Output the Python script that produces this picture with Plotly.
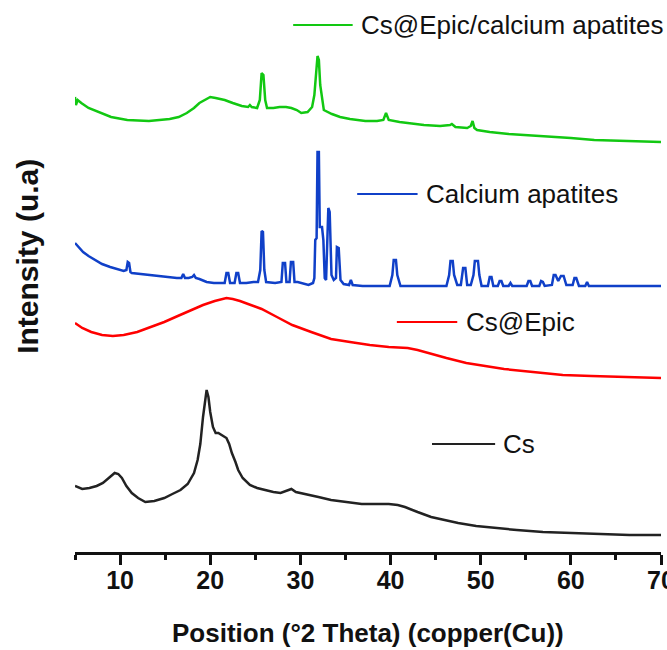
import plotly.graph_objects as go

# 2-theta positions (deg) and stacked intensities (a.u., offsets included)
cs_x = [5.0, 5.8, 6.6, 7.4, 8.1, 8.8, 9.4, 9.8, 10.2, 10.7, 11.3, 12.0, 12.8, 13.8, 14.9,
        15.8, 16.7, 17.5, 18.2, 18.6, 18.9, 19.2, 19.45, 19.6, 19.8, 20.0, 20.3, 20.6, 20.9,
        21.4, 21.8, 22.1, 22.4, 22.8, 23.1, 23.6, 24.4, 25.2, 26.1, 27.0, 27.8, 28.5, 29.0,
        29.5, 30.8, 32.0, 33.4, 35.0, 36.8, 38.5, 39.8, 40.8, 41.6, 43.0, 44.5, 46.0, 47.5,
        49.5, 51.4, 54.0, 56.9, 60.0, 63.4, 66.5, 70.0]
cs_y = [66, 63, 64, 66, 69, 74, 79, 78, 74, 66, 59, 54, 50, 51, 54,
        58, 62, 68, 79, 92, 108, 135, 155, 162, 155, 140, 125, 119, 119,
        116, 114, 108, 99, 90, 82, 74, 67, 64, 62, 60, 59, 61, 63,
        60, 57, 55, 52, 50, 48, 48, 48, 47, 45, 40, 35, 32, 29,
        26, 24, 22, 20, 19, 18, 17, 17]

epic_x = [5.0, 5.8, 6.8, 8.0, 9.2, 10.4, 11.9, 13.4, 14.9, 16.4, 17.9, 19.2, 20.5, 21.2,
          21.8, 22.5, 23.3, 24.5, 25.7, 27.4, 29.1, 31.2, 33.4, 35.5, 37.7, 39.8, 41.9,
          43.0, 44.1, 46.2, 48.4, 50.5, 52.6, 55.8, 59.1, 62.3, 65.5, 68.0, 70.0]
epic_y = [229, 224, 220, 217, 216, 217, 220, 225, 230, 236, 242, 247, 251, 253,
          254, 253, 251, 247, 243, 235, 227, 220, 213, 210, 207, 205, 204,
          202, 199, 194, 189, 186, 183, 180, 177, 176, 175, 174, 174]

apat_x = [5.0, 5.5, 5.9, 6.5, 7.2, 8.0, 8.9, 9.7, 10.4, 10.7, 10.85, 11.0, 11.15, 11.3,
          12.2, 13.2, 14.3, 15.4, 16.3, 16.8, 17.0, 17.2, 17.6, 18.0, 18.2, 18.4, 18.8,
          19.6, 20.4, 21.1, 21.6, 21.8, 22.0, 22.2, 22.7, 22.9, 23.1, 23.3, 24.0, 24.8,
          25.3, 25.55, 25.7, 25.85, 26.0, 26.2, 27.2, 27.9, 28.05, 28.3, 28.45, 28.8,
          28.95, 29.2, 29.35, 29.7, 30.9, 31.4, 31.55, 31.65, 31.8, 31.9, 32.05, 32.15,
          32.4, 32.55, 32.7, 32.85, 33.0, 33.1, 33.25, 33.45, 33.7, 33.95, 34.05, 34.25,
          34.45, 34.8, 35.4, 35.6, 35.8, 36.9, 39.9, 40.2, 40.35, 40.6, 40.75, 41.1,
          46.2, 46.5, 46.65, 46.9, 47.05, 47.4, 47.8, 48.05, 48.3, 48.5, 48.9, 49.2,
          49.35, 49.7, 49.85, 50.1, 50.8, 51.0, 51.2, 51.4, 51.9, 52.1, 52.3, 52.5,
          53.1, 53.3, 53.5, 55.1, 55.3, 55.5, 55.7, 56.5, 56.7, 56.9, 57.1, 57.9, 58.1,
          58.3, 58.6, 58.9, 59.2, 59.5, 60.2, 60.4, 60.6, 60.9, 61.6, 61.8, 62.0, 70.0]
apat_y = [309, 304, 300, 296, 292, 288, 285, 283, 281, 282, 290, 289, 280, 279,
          278, 277, 276, 275, 274, 274, 278, 274, 274, 275, 277, 274, 273,
          270, 269, 269, 269, 279, 279, 269, 269, 279, 279, 269, 269, 270,
          270, 282, 321, 320, 282, 270, 269, 270, 289, 289, 270, 270,
          290, 290, 270, 270, 267, 269, 274, 312, 314, 400, 400, 325,
          325, 312, 274, 272, 322, 344, 340, 277, 272, 274, 305, 304,
          272, 268, 267, 272, 267, 266, 266, 277, 292, 292, 277, 266,
          266, 277, 291, 291, 277, 267, 267, 284, 284, 267, 267, 277,
          291, 291, 277, 266, 266, 275, 275, 266, 266, 271, 271, 266,
          266, 269, 266, 266, 271, 271, 266, 266, 271, 270, 266, 267, 277,
          277, 271, 276, 276, 267, 267, 274, 274, 266, 266, 270, 266, 266]

comp_x = [5.0, 5.1, 5.3, 5.7, 6.5, 7.6, 9.0, 10.8, 13.2, 15.5, 16.5, 17.4, 18.2, 18.8,
          19.5, 20.0, 20.6, 21.6, 22.5, 23.5, 24.2, 24.4, 24.6, 25.2, 25.5, 25.7, 25.9,
          26.1, 26.3, 27.0, 27.7, 28.4, 29.0, 29.6, 30.1, 30.8, 31.3, 31.55, 31.9, 32.05,
          32.2, 32.4, 32.6, 33.5, 34.4, 35.5, 37.2, 38.5, 39.2, 39.5, 39.8, 41.0, 42.5,
          43.7, 45.5, 46.6, 46.8, 47.2, 48.5, 48.9, 49.1, 49.3, 49.6, 51.0, 53.1, 55.0,
          57.9, 60.0, 62.6, 66.0, 70.0]
comp_y = [455, 447, 452, 449, 444, 440, 435, 432, 431, 433, 435, 439, 444, 449,
          453, 455, 454, 452, 449, 446, 445, 447, 445, 444, 452, 479, 477,
          452, 444, 444, 445, 445, 444, 442, 439, 440, 445, 457, 496, 492,
          467, 452, 442, 438, 435, 433, 431, 431, 432, 439, 432, 430, 428,
          427, 426, 427, 428, 425, 424, 426, 431, 424, 422, 420, 418, 417,
          415, 414, 412, 411, 410]

x_ticks = [10, 20, 30, 40, 50, 60, 70]

series = [
    ("Cs", cs_x, cs_y, "#222222"),
    ("Cs@Epic", epic_x, epic_y, "#ff0000"),
    ("Calcium apatites", apat_x, apat_y, "#1040c8"),
    ("Cs@Epic/calcium apatites", comp_x, comp_y, "#12c812"),
]

# in-plot key: line start/end (2-theta) and height for each series
key_pos = {
    "Cs@Epic/calcium apatites": (29.2, 35.8, 527),
    "Calcium apatites": (36.3, 43.0, 358),
    "Cs@Epic": (40.7, 47.4, 230),
    "Cs": (44.6, 51.6, 108),
}

FONT = "Liberation Sans, Arial"

fig = go.Figure()
shapes, annotations = [], []
for name, xs, ys, color in series:
    fig.add_trace(go.Scatter(x=xs, y=ys, mode="lines", name=name,
                             line=dict(color=color, width=2.5), hoverinfo="skip"))
    x0, x1, yk = key_pos[name]
    shapes.append(dict(type="line", xref="x", yref="y", x0=x0, x1=x1, y0=yk, y1=yk,
                       line=dict(color=color, width=2.2)))
    annotations.append(dict(x=x1 + 0.7, y=yk, xref="x", yref="y", text=name,
                            showarrow=False, xanchor="left", yanchor="middle",
                            font=dict(family=FONT, size=26, color="#111111")))

annotations.append(dict(x=0.5, y=-0.147, xref="paper", yref="paper",
                        text="Position (°2 Theta) (copper(Cu))", showarrow=False,
                        xanchor="center", yanchor="middle",
                        font=dict(family=FONT, size=26, color="#111111", weight="bold")))
annotations.append(dict(x=-0.08, y=0.535, xref="paper", yref="paper",
                        text="Intensity (u.a)", showarrow=False, textangle=-90,
                        xanchor="center", yanchor="middle",
                        font=dict(family=FONT, size=30, color="#111111", weight="bold")))

fig.update_layout(
    width=667, height=650,
    margin=dict(l=75, r=6, t=0, b=98, autoexpand=False),
    paper_bgcolor="white", plot_bgcolor="white",
    showlegend=False, hovermode=False,
    shapes=shapes, annotations=annotations,
    xaxis=dict(range=[5, 70], tickvals=x_ticks, ticks="outside", ticklen=10, tickwidth=2.5,
               tickcolor="#111111", showline=True, linewidth=2.5, linecolor="#111111",
               showgrid=False, zeroline=False, ticklabeloverflow="allow", automargin=False,
               ticklabelstandoff=-6,
               minor=dict(dtick=5, tick0=0, ticks="outside", ticklen=5, tickwidth=2.5,
                          tickcolor="#111111", showgrid=False),
               tickfont=dict(family=FONT, size=25, color="#111111", weight="bold")),
    yaxis=dict(range=[0, 552], visible=False, showgrid=False, zeroline=False),
)

fig.write_html("out.html")
